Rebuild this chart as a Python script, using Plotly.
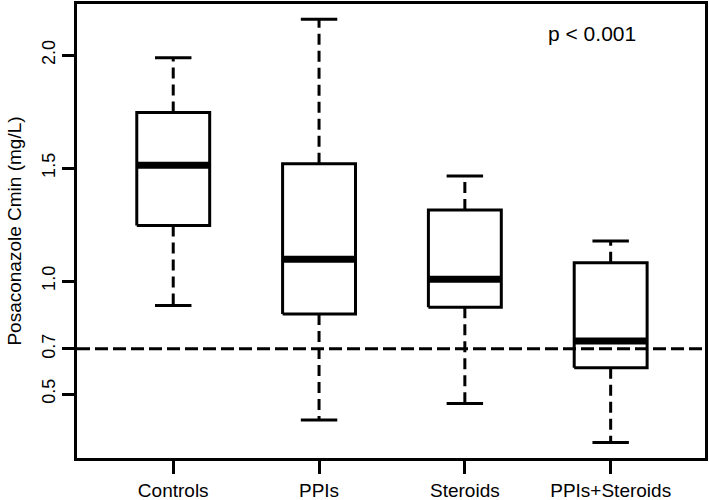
import plotly.graph_objects as go

categories = ["Controls", "PPIs", "Steroids", "PPIs+Steroids"]
lower_whisker = [0.892, 0.385, 0.458, 0.286]
q1 = [1.246, 0.854, 0.884, 0.616]
median = [1.513, 1.097, 1.008, 0.735]
q3 = [1.746, 1.519, 1.314, 1.081]
upper_whisker = [1.988, 2.158, 1.465, 1.177]
threshold = 0.7
y_ticks = [0.5, 0.7, 1.0, 1.5, 2.0]
y_tick_labels = ["0.5", "0.7", "1.0", "1.5", "2.0"]
p_text = "p < 0.001"

BOX_HALF = 0.25
CAP_HALF = 0.125
FONT = "Liberation Sans, Arial, sans-serif"

positions = list(range(1, len(categories) + 1))

box_x, box_y = [], []
med_x, med_y = [], []
wh_x, wh_y = [], []
cap_x, cap_y = [], []
for p, lo, a, m, b, hi in zip(positions, lower_whisker, q1, median, q3, upper_whisker):
    box_x += [p - BOX_HALF, p + BOX_HALF, p + BOX_HALF, p - BOX_HALF, p - BOX_HALF, None]
    box_y += [a, a, b, b, a, None]
    med_x += [p - BOX_HALF, p + BOX_HALF, None]
    med_y += [m, m, None]
    wh_x += [p, p, None, p, p, None]
    wh_y += [b, hi, None, a, lo, None]
    cap_x += [p - CAP_HALF, p + CAP_HALF, None, p - CAP_HALF, p + CAP_HALF, None]
    cap_y += [hi, hi, None, lo, lo, None]

fig = go.Figure()
fig.add_trace(go.Scatter(x=wh_x, y=wh_y, mode="lines",
                         line=dict(color="black", width=3, dash="11px,6px"),
                         hoverinfo="skip", showlegend=False))
fig.add_trace(go.Scatter(x=cap_x, y=cap_y, mode="lines",
                         line=dict(color="black", width=3),
                         hoverinfo="skip", showlegend=False))
fig.add_trace(go.Scatter(x=box_x, y=box_y, mode="lines", fill="toself",
                         fillcolor="white",
                         line=dict(color="black", width=3),
                         hoverinfo="skip", showlegend=False))
fig.add_trace(go.Scatter(x=med_x, y=med_y, mode="lines",
                         line=dict(color="black", width=7),
                         hoverinfo="skip", showlegend=False))

fig.add_shape(type="line", xref="paper", x0=0, x1=1, yref="y", y0=threshold, y1=threshold,
              line=dict(color="black", width=3, dash="13px,5px"), layer="above")

fig.add_annotation(x=3.87, y=2.097, xref="x", yref="y", text=p_text, showarrow=False,
                   font=dict(family=FONT, size=21, color="black"))

fig.update_layout(
    width=709, height=500,
    margin=dict(l=77, r=4, t=4, b=42, autoexpand=False),
    paper_bgcolor="white", plot_bgcolor="white",
    font=dict(family=FONT, color="black"),
)
fig.update_xaxes(
    range=[0.34, 4.647], tickmode="array", tickvals=positions, ticktext=categories,
    showgrid=False, zeroline=False, showline=True, mirror=True, linecolor="black",
    linewidth=2.5, ticks="outside", ticklen=13, tickwidth=2.5, tickcolor="black",
    tickfont=dict(family=FONT, size=19, color="black"), automargin=False,
)
fig.update_yaxes(
    range=[0.217, 2.226], tickmode="array", tickvals=y_ticks, ticktext=y_tick_labels,
    showgrid=False, zeroline=False, showline=True, mirror=True, linecolor="black",
    linewidth=2.5, ticks="outside", ticklen=12, tickwidth=2.5, tickcolor="black",
    tickangle=-90, tickfont=dict(family=FONT, size=18, color="black"), automargin=False,
    title=dict(text="Posaconazole Cmin (mg/L)", font=dict(family=FONT, size=19, color="black"),
               standoff=13),
)

fig.write_html("out.html",
               config={"displayModeBar": False},
               post_script="document.body.style.margin='0';document.body.style.padding='0';")
